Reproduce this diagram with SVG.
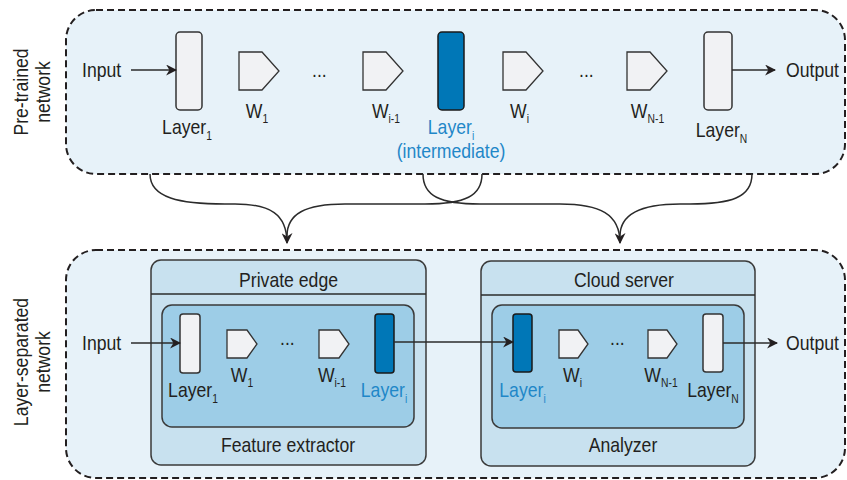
<svg xmlns="http://www.w3.org/2000/svg" width="847" height="480" viewBox="0 0 847 480">
<defs>
<style>
text{font-family:"Liberation Sans",Arial,sans-serif;font-size:20.5px;fill:#231f20}
.c{text-anchor:middle}
.blue{fill:#1f87c8}
.sub{font-size:12px}
.outer{fill:#e7f2f9;stroke:#231f20;stroke-width:2;stroke-dasharray:7 4}
.cont{fill:#c8e1ef;stroke:#3a3a3a;stroke-width:1.5}
.inner{fill:#9dcde7;stroke:#3a3a3a;stroke-width:1.5}
.light{fill:#f1f2f4;stroke:#333;stroke-width:1.5}
.dark{fill:#0077b7;stroke:#1a1a1a;stroke-width:1.5}
.w{fill:#f1f2f4;stroke:#333;stroke-width:1.3}
.ln{fill:none;stroke:#2b2b2b;stroke-width:1.5}
</style>
<marker id="ah" viewBox="0 0 10 10" refX="9" refY="5" markerWidth="11" markerHeight="11" markerUnits="userSpaceOnUse" orient="auto">
<path d="M0,0 L10,5 L0,10 L3,5 z" fill="#231f20"/>
</marker>
</defs>

<g id="pretrained">
<rect class="outer" x="66" y="10" width="779" height="164" rx="30"/>
<text class="c" transform="translate(28,92) rotate(-90) scale(0.86,1)">Pre-trained</text>
<text class="c" transform="translate(50,92) rotate(-90) scale(0.86,1)">network</text>
</g>

<g id="layerseparated">
<rect class="outer" x="66" y="250" width="779" height="228" rx="30"/>
<text class="c" transform="translate(28,362) rotate(-90) scale(0.86,1)">Layer-separated</text>
<text class="c" transform="translate(50,362) rotate(-90) scale(0.86,1)">network</text>
</g>

<g id="top-input"><text transform="matrix(0.86 0 0 1 82 77)">Input</text></g>
<g id="top-layer1">
<rect class="light" x="176" y="32" width="26" height="78" rx="4"/>
<text class="c" transform="matrix(0.86 0 0 1 187 134)">Layer<tspan class="sub" dy="6">1</tspan></text>
</g>
<g id="top-w1">
<polygon class="w" points="239,52 262,52 279,71 262,90 239,90"/>
<text class="c" transform="matrix(0.86 0 0 1 257 118)">W<tspan class="sub" dy="5">1</tspan></text>
</g>
<g id="top-dots1"><text transform="matrix(0.86 0 0 1 312 77)">...</text></g>
<g id="top-wi-1">
<polygon class="w" points="363,52 386,52 403,71 386,90 363,90"/>
<text class="c" transform="matrix(0.86 0 0 1 386 118)">W<tspan class="sub" dy="5">i-1</tspan></text>
</g>
<g id="top-layeri">
<rect class="dark" x="438" y="32" width="26" height="78" rx="4"/>
<text class="c blue" transform="matrix(0.86 0 0 1 451 134)">Layer<tspan class="sub blue" dy="6">i</tspan></text>
<text class="c blue" transform="matrix(0.86 0 0 1 451 158)">(intermediate)</text>
</g>
<g id="top-wi">
<polygon class="w" points="503,52 526,52 543,71 526,90 503,90"/>
<text class="c" transform="matrix(0.86 0 0 1 519.5 118)">W<tspan class="sub" dy="5">i</tspan></text>
</g>
<g id="top-dots2"><text transform="matrix(0.86 0 0 1 579 77)">...</text></g>
<g id="top-wn-1">
<polygon class="w" points="627,52 650,52 667,71 650,90 627,90"/>
<text class="c" transform="matrix(0.86 0 0 1 647.5 118)">W<tspan class="sub" dy="5">N-1</tspan></text>
</g>
<g id="top-layern">
<rect class="light" x="704" y="32" width="28" height="78" rx="4"/>
<text class="c" transform="matrix(0.86 0 0 1 721.5 137)">Layer<tspan class="sub" dy="6">N</tspan></text>
</g>
<g id="top-output"><text transform="matrix(0.86 0 0 1 786 77)">Output</text></g>

<g id="private-edge">
<rect class="cont" x="151" y="260" width="275" height="205" rx="10"/>
<line class="ln" x1="151" y1="294" x2="426" y2="294"/>
<text class="c" transform="matrix(0.86 0 0 1 288.5 287)">Private edge</text>
</g>
<g id="feature-extractor">
<rect class="inner" x="162" y="305" width="252" height="122" rx="10"/>
<text class="c" transform="matrix(0.86 0 0 1 288 452)">Feature extractor</text>
</g>
<g id="cloud-server">
<rect class="cont" x="481" y="261" width="274" height="205" rx="10"/>
<line class="ln" x1="481" y1="295" x2="755" y2="295"/>
<text class="c" transform="matrix(0.86 0 0 1 624 287)">Cloud server</text>
</g>
<g id="analyzer">
<rect class="inner" x="492" y="305" width="252" height="123" rx="10"/>
<text class="c" transform="matrix(0.86 0 0 1 623 452)">Analyzer</text>
</g>

<g id="bot-input"><text transform="matrix(0.86 0 0 1 82 350)">Input</text></g>
<g id="bot-layer1">
<rect class="light" x="180" y="314" width="20" height="59" rx="3"/>
<text class="c" transform="matrix(0.86 0 0 1 193 397)">Layer<tspan class="sub" dy="6">1</tspan></text>
</g>
<g id="bot-w1">
<polygon class="w" points="227,330 247,330 257,344 247,358 227,358"/>
<text class="c" transform="matrix(0.86 0 0 1 242 382)">W<tspan class="sub" dy="5">1</tspan></text>
</g>
<g id="bot-dots1"><text transform="matrix(0.86 0 0 1 280 345)">...</text></g>
<g id="bot-wi-1">
<polygon class="w" points="319,330 339,330 349,344 339,358 319,358"/>
<text class="c" transform="matrix(0.86 0 0 1 332 382)">W<tspan class="sub" dy="5">i-1</tspan></text>
</g>
<g id="bot-layeri-edge">
<rect class="dark" x="375" y="314" width="19" height="59" rx="3"/>
<text class="c blue" transform="matrix(0.86 0 0 1 384 397)">Layer<tspan class="sub blue" dy="6">i</tspan></text>
</g>
<g id="bot-layeri-cloud">
<rect class="dark" x="513" y="314" width="19" height="58" rx="3"/>
<text class="c blue" transform="matrix(0.86 0 0 1 522.5 397)">Layer<tspan class="sub blue" dy="6">i</tspan></text>
</g>
<g id="bot-wi">
<polygon class="w" points="559,330 578,330 588,344 578,358 559,358"/>
<text class="c" transform="matrix(0.86 0 0 1 572.5 382)">W<tspan class="sub" dy="5">i</tspan></text>
</g>
<g id="bot-dots2"><text transform="matrix(0.86 0 0 1 610 345)">...</text></g>
<g id="bot-wn-1">
<polygon class="w" points="648,330 667,330 677,344 667,358 648,358"/>
<text class="c" transform="matrix(0.86 0 0 1 661 382)">W<tspan class="sub" dy="5">N-1</tspan></text>
</g>
<g id="bot-layern">
<rect class="light" x="703" y="314" width="20" height="58" rx="3"/>
<text class="c" transform="matrix(0.86 0 0 1 713 397)">Layer<tspan class="sub" dy="6">N</tspan></text>
</g>
<g id="bot-output"><text transform="matrix(0.86 0 0 1 786 350)">Output</text></g>

<g id="connectors">
<line class="ln" x1="131" y1="70" x2="176" y2="70" marker-end="url(#ah)"/>
<line class="ln" x1="732" y1="70" x2="775" y2="70" marker-end="url(#ah)"/>
<line class="ln" x1="131" y1="343" x2="180" y2="343" marker-end="url(#ah)"/>
<line class="ln" x1="394" y1="342" x2="513" y2="342" marker-end="url(#ah)"/>
<line class="ln" x1="723" y1="343" x2="777" y2="343" marker-end="url(#ah)"/>
<path class="ln" d="M150,174 C150,198 180,204 225,204 L235,204 C270,204 287,214 287,243" marker-end="url(#ah)"/>
<path class="ln" d="M482,174 C482,196 465,204 425,204 L345,204 C305,204 287,214 287,236"/>
<path class="ln" d="M423,174 C423,196 440,204 480,204 L560,204 C600,204 620,214 620,243" marker-end="url(#ah)"/>
<path class="ln" d="M752,174 C752,198 730,204 690,204 L680,204 C640,204 620,214 620,236"/>
</g>
</svg>
